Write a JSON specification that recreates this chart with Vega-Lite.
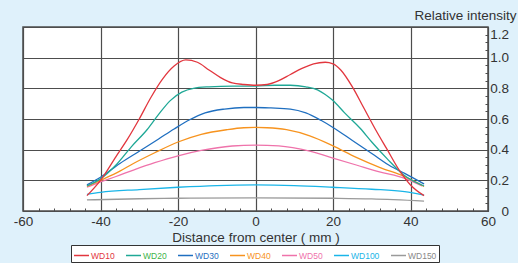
{
  "$schema": "https://vega.github.io/schema/vega-lite/v6.json",
  "width": 465,
  "height": 184,
  "autosize": "none",
  "padding": {"left": 23, "top": 27, "right": 30, "bottom": 52},
  "background": "#dff1fb",
  "config": {
    "font": "Liberation Sans",
    "view": {"fill": "white", "stroke": "#4d4d4d", "strokeWidth": 1.5}
  },
  "data": {
    "values": [
      {"s": "WD150", "x": -43.5, "y": 0.072}, {"s": "WD150", "x": -30, "y": 0.08}, {"s": "WD150", "x": -20, "y": 0.083}, {"s": "WD150", "x": 0, "y": 0.086}, {"s": "WD150", "x": 20, "y": 0.083}, {"s": "WD150", "x": 30, "y": 0.079}, {"s": "WD150", "x": 43.5, "y": 0.065},
      {"s": "WD100", "x": -43.5, "y": 0.109}, {"s": "WD100", "x": -40, "y": 0.122}, {"s": "WD100", "x": -30, "y": 0.14}, {"s": "WD100", "x": -20, "y": 0.155}, {"s": "WD100", "x": -10, "y": 0.166}, {"s": "WD100", "x": 0, "y": 0.17}, {"s": "WD100", "x": 10, "y": 0.166}, {"s": "WD100", "x": 20, "y": 0.155}, {"s": "WD100", "x": 30, "y": 0.142}, {"s": "WD100", "x": 38.5, "y": 0.126}, {"s": "WD100", "x": 43.5, "y": 0.104},
      {"s": "WD50", "x": -43.5, "y": 0.155}, {"s": "WD50", "x": -40, "y": 0.19}, {"s": "WD50", "x": -36, "y": 0.225}, {"s": "WD50", "x": -31.5, "y": 0.267}, {"s": "WD50", "x": -26, "y": 0.315}, {"s": "WD50", "x": -20, "y": 0.36}, {"s": "WD50", "x": -14, "y": 0.395}, {"s": "WD50", "x": -6, "y": 0.424}, {"s": "WD50", "x": 0, "y": 0.43}, {"s": "WD50", "x": 6, "y": 0.425}, {"s": "WD50", "x": 14, "y": 0.39}, {"s": "WD50", "x": 20, "y": 0.345}, {"s": "WD50", "x": 26, "y": 0.3}, {"s": "WD50", "x": 32, "y": 0.255}, {"s": "WD50", "x": 38.5, "y": 0.213}, {"s": "WD50", "x": 43, "y": 0.163},
      {"s": "WD40", "x": -43.5, "y": 0.16}, {"s": "WD40", "x": -40, "y": 0.2}, {"s": "WD40", "x": -35, "y": 0.26}, {"s": "WD40", "x": -31.5, "y": 0.31}, {"s": "WD40", "x": -26, "y": 0.38}, {"s": "WD40", "x": -20, "y": 0.45}, {"s": "WD40", "x": -14, "y": 0.5}, {"s": "WD40", "x": -7.5, "y": 0.53}, {"s": "WD40", "x": -3, "y": 0.543}, {"s": "WD40", "x": 0, "y": 0.545}, {"s": "WD40", "x": 3, "y": 0.543}, {"s": "WD40", "x": 8, "y": 0.53}, {"s": "WD40", "x": 14, "y": 0.49}, {"s": "WD40", "x": 20, "y": 0.425}, {"s": "WD40", "x": 26, "y": 0.35}, {"s": "WD40", "x": 32, "y": 0.285}, {"s": "WD40", "x": 38.5, "y": 0.224}, {"s": "WD40", "x": 43.5, "y": 0.16},
      {"s": "WD30", "x": -43.5, "y": 0.17}, {"s": "WD30", "x": -40, "y": 0.22}, {"s": "WD30", "x": -35, "y": 0.31}, {"s": "WD30", "x": -30, "y": 0.39}, {"s": "WD30", "x": -25, "y": 0.47}, {"s": "WD30", "x": -21, "y": 0.535}, {"s": "WD30", "x": -17, "y": 0.595}, {"s": "WD30", "x": -13, "y": 0.64}, {"s": "WD30", "x": -8, "y": 0.665}, {"s": "WD30", "x": -3, "y": 0.675}, {"s": "WD30", "x": 0, "y": 0.675}, {"s": "WD30", "x": 4, "y": 0.672}, {"s": "WD30", "x": 9, "y": 0.665}, {"s": "WD30", "x": 13, "y": 0.64}, {"s": "WD30", "x": 17, "y": 0.59}, {"s": "WD30", "x": 20, "y": 0.545}, {"s": "WD30", "x": 25, "y": 0.46}, {"s": "WD30", "x": 30, "y": 0.375}, {"s": "WD30", "x": 35, "y": 0.29}, {"s": "WD30", "x": 38.5, "y": 0.245}, {"s": "WD30", "x": 43.5, "y": 0.176},
      {"s": "WD20", "x": -43.5, "y": 0.163}, {"s": "WD20", "x": -40, "y": 0.21}, {"s": "WD20", "x": -36, "y": 0.3}, {"s": "WD20", "x": -32, "y": 0.42}, {"s": "WD20", "x": -28, "y": 0.53}, {"s": "WD20", "x": -25, "y": 0.63}, {"s": "WD20", "x": -22, "y": 0.72}, {"s": "WD20", "x": -19, "y": 0.775}, {"s": "WD20", "x": -16, "y": 0.8}, {"s": "WD20", "x": -12, "y": 0.81}, {"s": "WD20", "x": -6, "y": 0.815}, {"s": "WD20", "x": 0, "y": 0.815}, {"s": "WD20", "x": 5, "y": 0.82}, {"s": "WD20", "x": 9, "y": 0.82}, {"s": "WD20", "x": 13, "y": 0.81}, {"s": "WD20", "x": 16, "y": 0.79}, {"s": "WD20", "x": 18, "y": 0.76}, {"s": "WD20", "x": 20, "y": 0.72}, {"s": "WD20", "x": 23, "y": 0.64}, {"s": "WD20", "x": 27, "y": 0.54}, {"s": "WD20", "x": 30, "y": 0.45}, {"s": "WD20", "x": 34, "y": 0.34}, {"s": "WD20", "x": 38, "y": 0.24}, {"s": "WD20", "x": 43.5, "y": 0.163},
      {"s": "WD10", "x": -43.5, "y": 0.1}, {"s": "WD10", "x": -40, "y": 0.2}, {"s": "WD10", "x": -36, "y": 0.355}, {"s": "WD10", "x": -33, "y": 0.47}, {"s": "WD10", "x": -30, "y": 0.6}, {"s": "WD10", "x": -27, "y": 0.74}, {"s": "WD10", "x": -24, "y": 0.86}, {"s": "WD10", "x": -21, "y": 0.945}, {"s": "WD10", "x": -18, "y": 0.985}, {"s": "WD10", "x": -15, "y": 0.97}, {"s": "WD10", "x": -12, "y": 0.92}, {"s": "WD10", "x": -9, "y": 0.87}, {"s": "WD10", "x": -6, "y": 0.835}, {"s": "WD10", "x": -3, "y": 0.825}, {"s": "WD10", "x": 0, "y": 0.82}, {"s": "WD10", "x": 3, "y": 0.825}, {"s": "WD10", "x": 6, "y": 0.85}, {"s": "WD10", "x": 9, "y": 0.89}, {"s": "WD10", "x": 12, "y": 0.93}, {"s": "WD10", "x": 15, "y": 0.96}, {"s": "WD10", "x": 18, "y": 0.97}, {"s": "WD10", "x": 20, "y": 0.96}, {"s": "WD10", "x": 22, "y": 0.92}, {"s": "WD10", "x": 25, "y": 0.81}, {"s": "WD10", "x": 28, "y": 0.67}, {"s": "WD10", "x": 31, "y": 0.53}, {"s": "WD10", "x": 34, "y": 0.4}, {"s": "WD10", "x": 37, "y": 0.27}, {"s": "WD10", "x": 40, "y": 0.17}, {"s": "WD10", "x": 43.5, "y": 0.1}
    ]
  },
  "mark": {"type": "line", "interpolate": "monotone", "strokeWidth": 1.3},
  "encoding": {
    "x": {
      "field": "x", "type": "quantitative",
      "scale": {"domain": [-60, 60], "nice": false, "zero": false},
      "axis": {
        "values": [-60,-56,-52,-48,-44,-40,-36,-32,-28,-24,-20,-16,-12,-8,-4,0,4,8,12,16,20,24,28,32,36,40,44,48,52,56,60],
        "domain": false,
        "grid": true,
        "gridColor": "#4d4d4d",
        "gridWidth": 1.2,
        "gridOpacity": {"expr": "datum.value % 20 == 0 ? 1 : 0"},
        "tickColor": "#4d4d4d",
        "tickSize": {"expr": "datum.value % 20 == 0 ? -5 : -3"},
        "labelExpr": "datum.value % 20 == 0 ? '' + datum.value : ''",
        "labelFlush": false,
        "labelOverlap": false,
        "labelFontSize": 13.5,
        "labelColor": "#333",
        "labelPadding": 8.5,
        "labelBaseline": "top",
        "title": "Distance from center ( mm )",
        "titleFontSize": 13.5,
        "titleFontWeight": "normal",
        "titleColor": "#333",
        "titleY": 30,
        "titleBaseline": "alphabetic"
      }
    },
    "y": {
      "field": "y", "type": "quantitative",
      "scale": {"domain": [0, 1.2], "nice": false},
      "axis": {
        "orient": "right",
        "values": [0,0.05,0.1,0.15,0.2,0.25,0.3,0.35,0.4,0.45,0.5,0.55,0.6,0.65,0.7,0.75,0.8,0.85,0.9,0.95,1.0,1.05,1.1,1.15,1.2],
        "domain": false,
        "grid": true,
        "gridColor": "#4d4d4d",
        "gridWidth": 1.2,
        "gridOpacity": {"expr": "round(datum.value*100) % 20 == 0 ? 1 : 0"},
        "tickColor": "#4d4d4d",
        "tickSize": {"expr": "round(datum.value*100) % 20 == 0 ? -5 : -3"},
        "labelExpr": "round(datum.value*100) % 20 == 0 ? (datum.value == 0 ? '0' : format(datum.value, '.1f')) : ''",
        "labelBaseline": {"expr": "datum.value > 1.19 ? 'top' : 'middle'"},
        "labelAlign": "right",
        "labelFlush": false,
        "labelOverlap": false,
        "labelFontSize": 13.5,
        "labelColor": "#333",
        "labelPadding": 25.5,
        "title": "Relative intensity",
        "titleAngle": 0,
        "titleAlign": "right",
        "titleBaseline": "alphabetic",
        "titleX": 28,
        "titleY": -8,
        "titleFontSize": 13.5,
        "titleFontWeight": "normal",
        "titleColor": "#333"
      }
    },
    "color": {
      "field": "s", "type": "nominal",
      "scale": {
        "domain": ["WD10", "WD20", "WD30", "WD40", "WD50", "WD100", "WD150"],
        "range": ["#e2363e", "#1fa896", "#1f6fc0", "#f7931e", "#ef73ab", "#1ab5e8", "#9a9a9a"]
      },
      "legend": {
        "orient": "none",
        "legendX": 48,
        "legendY": 218,
        "direction": "horizontal",
        "title": null,
        "symbolType": "stroke",
        "symbolSize": 225,
        "symbolStrokeWidth": 1.5,
        "symbolStrokeColor": {"expr": "datum.label == 'WD20' ? '#3cb44a' : datum.label == 'WD150' ? '#7a1a1a' : scale('color', datum.label)"},
        "labelFontSize": 8.5,
        "labelOffset": 1,
        "columnPadding": 8,
        "padding": 2,
        "strokeColor": "#333",
        "fillColor": "white",
        "labelColor": {"expr": "datum.label == 'WD20' ? '#3cb44a' : datum.label == 'WD150' ? '#888888' : scale('color', datum.label)"}
      }
    }
  }
}
